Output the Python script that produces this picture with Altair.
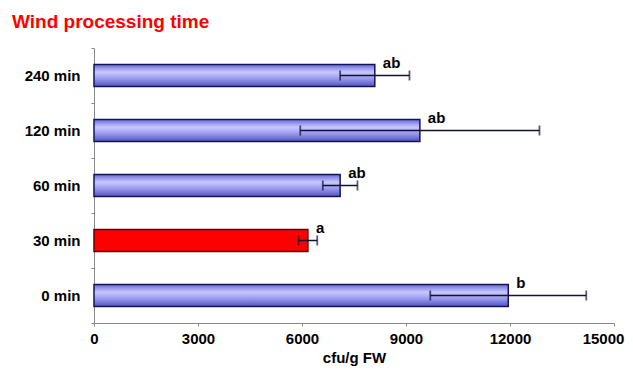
import altair as alt
import pandas as pd

categories = ["240 min", "120 min", "60 min", "30 min", "0 min"]
means = [8100, 9400, 7100, 6170, 11950]
errors = [1000, 3450, 500, 270, 2250]
letters = ["ab", "ab", "ab", "a", "b"]
highlight = [False, False, False, True, False]
x_ticks = [0, 3000, 6000, 9000, 12000, 15000]
title_text = "Wind processing time"

df = pd.DataFrame({
    "time": categories,
    "mean": means,
    "err": errors,
    "letter": letters,
    "hl": highlight,
})
df["lo"] = df["mean"] - df["err"]
df["hi"] = df["mean"] + df["err"]

FONT = "Liberation Sans"

yenc = alt.Y("time:N", sort=categories,
             scale=alt.Scale(paddingInner=0, paddingOuter=0),
             axis=alt.Axis(title=None, labelFont=FONT, labelFontSize=15,
                           labelFontWeight="bold", labelColor="black",
                           labelPadding=11, tickSize=3, tickBand="extent",
                           tickColor="#888888", domainColor="#888888",
                           domainWidth=1))
xscale = alt.Scale(domain=[0, 15000], nice=False)
xenc = alt.X("mean:Q", scale=xscale,
             axis=alt.Axis(title="cfu/g FW", values=x_ticks, grid=False,
                           format="d",
                           labelFont=FONT, labelFontSize=15,
                           labelFontWeight="bold", labelColor="black",
                           labelOffset={"expr": "datum.value == 15000 ? -11 : 0"},
                           titleFont=FONT, titleFontSize=15,
                           titleFontWeight="bold", titleColor="black",
                           titlePadding=4, labelPadding=5, tickSize=3,
                           tickColor="#888888", domainColor="#888888",
                           labelFlush=False))

blue_grad = alt.Gradient(
    gradient="linear", x1=0, y1=0, x2=0, y2=1,
    stops=[alt.GradientStop(color="#6a6ad6", offset=0),
           alt.GradientStop(color="#c8c8ff", offset=0.35),
           alt.GradientStop(color="#9898ee", offset=0.65),
           alt.GradientStop(color="#5252bc", offset=1)])

base = alt.Chart(df)

blue_bars = base.transform_filter("!datum.hl").mark_bar(
    size=22, fill=blue_grad, stroke="#14145a", strokeWidth=1.5
).encode(x=xenc, y=yenc)

red_bars = base.transform_filter("datum.hl").mark_bar(
    size=22, fill="#ff0000", stroke="#600000", strokeWidth=1.5
).encode(x=alt.X("mean:Q", scale=xscale), y=alt.Y("time:N", sort=categories))

rules = base.mark_rule(color="#111133", strokeWidth=1.5).encode(
    x=alt.X("lo:Q", scale=xscale), x2="hi:Q",
    y=alt.Y("time:N", sort=categories))

cap_lo = base.mark_tick(color="#111133", thickness=1.8, size=10,
                        orient="vertical").encode(
    x=alt.X("lo:Q", scale=xscale), y=alt.Y("time:N", sort=categories))
cap_hi = base.mark_tick(color="#111133", thickness=1.8, size=10,
                        orient="vertical").encode(
    x=alt.X("hi:Q", scale=xscale), y=alt.Y("time:N", sort=categories))

text = base.mark_text(align="left", baseline="middle", dx=8, dy=-13,
                      font=FONT, fontSize=15, fontWeight="bold",
                      color="black").encode(
    x=alt.X("mean:Q", scale=xscale), y=alt.Y("time:N", sort=categories),
    text="letter:N")

title = alt.Chart(pd.DataFrame({"t": [title_text]})).mark_text(
    align="left", baseline="alphabetic", font=FONT, fontSize=19,
    fontWeight="bold", color="#ff0000", clip=False
).encode(x=alt.value(-82), y=alt.value(-20), text="t:N")

chart = alt.layer(blue_bars, red_bars, rules, cap_lo, cap_hi, text, title).properties(
    width=520, height=275,
    autosize=alt.AutoSizeParams(type="none"),
    padding={"left": 86, "top": 40, "right": 11, "bottom": 45},
).configure_view(stroke=None)

chart.save("out.html", embed_options={"renderer": "svg", "actions": False})
